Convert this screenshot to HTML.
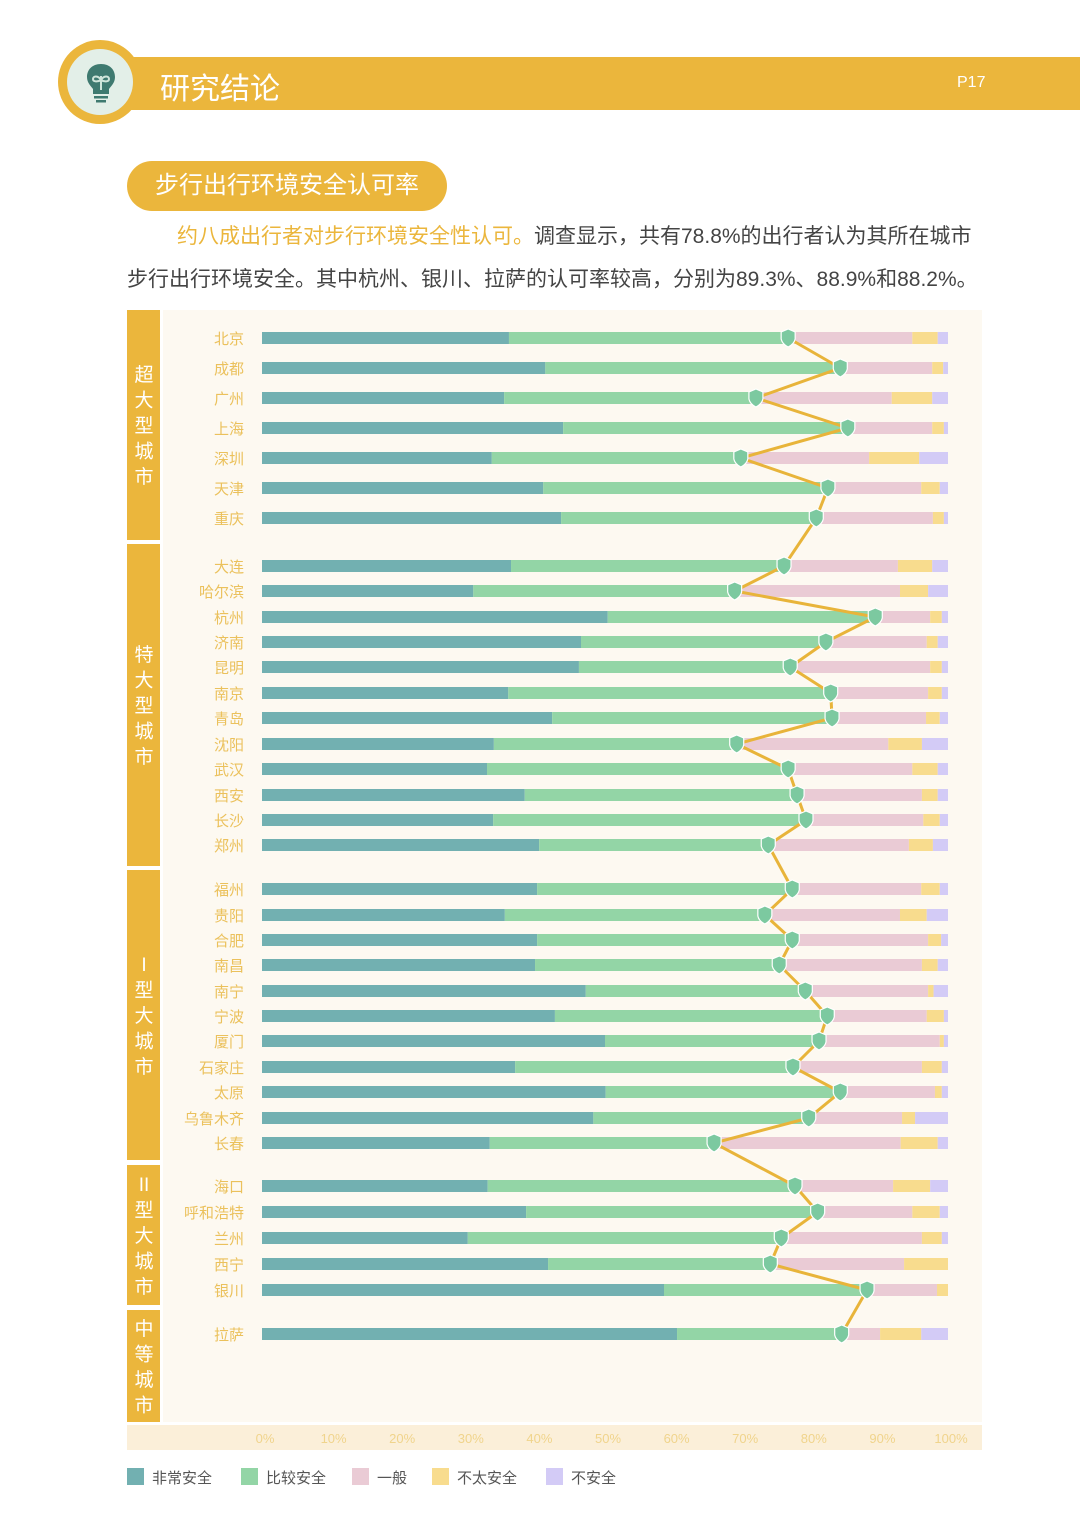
<!DOCTYPE html>
<html><head><meta charset="utf-8"><style>
body{margin:0;width:1080px;height:1527px;background:#fff;position:relative;overflow:hidden;font-family:"Liberation Sans","Noto Sans CJK SC",sans-serif}
.abs{position:absolute}
</style></head><body>
<div class="abs" style="left:100px;top:57px;width:980px;height:53px;background:#ebb63c"></div>
<div class="abs" style="left:58px;top:40px;width:84px;height:84px;border-radius:50%;background:#ebb63c"></div>
<div class="abs" style="left:67px;top:49px;width:66px;height:66px;border-radius:50%;background:#e3efe8"></div>
<svg class="abs" style="left:84px;top:62px" width="34" height="44"><path d="M17 2C8 2 3 8 3 15c0 6 4 9 6 12v5h16v-5c2-3 6-6 6-12C31 8 26 2 17 2z" fill="#3f7a70"/><path d="M17 14v14M17 18c-3-5-8-4-8-1 0 3 5 3 8 1M17 18c3-5 8-4 8-1 0 3-5 3-8 1" stroke="#cfe5da" stroke-width="2" fill="none"/><rect x="10" y="34" width="14" height="2.5" fill="#3f7a70"/><rect x="12" y="38" width="10" height="2.5" fill="#3f7a70"/></svg>
<div class="abs" style="left:160px;top:64px;font-size:30px;color:#fff">研究结论</div>
<div class="abs" style="left:957px;top:74px;font-size:16px;color:#fff">P17</div>
<div class="abs" style="left:127px;top:161px;width:320px;height:50px;border-radius:25px;background:#ebb63c;color:#fff;font-size:24px;line-height:50px;text-align:center">步行出行环境安全认可率</div>
<div class="abs" style="left:127px;top:215px;width:862px;font-size:21px;line-height:43px;color:#444"><span style="padding-left:50px;color:#ebb63c">约八成出行者对步行环境安全性认可。</span>调查显示，共有78.8%的出行者认为其所在城市步行出行环境安全。其中杭州、银川、拉萨的认可率较高，分别为89.3%、88.9%和88.2%。</div>
<svg id="chart" class="abs" style="left:0;top:0" width="1080" height="1527"></svg>
<script>
const cities=["北京","成都","广州","上海","深圳","天津","重庆","大连","哈尔滨","杭州","济南","昆明","南京","青岛","沈阳","武汉","西安","长沙","郑州","福州","贵阳","合肥","南昌","南宁","宁波","厦门","石家庄","太原","乌鲁木齐","长春","海口","呼和浩特","兰州","西宁","银川","拉萨"];
const rowY=[338,368,398,428,458,488,518,566,591,617,642,667,693,718,744,769,795,820,845,889,915,940,965,991,1016,1041,1067,1092,1118,1143,1186,1212,1238,1264,1290,1334];
const verySafe=[36.0,41.3,35.3,43.9,33.5,41.0,43.6,36.3,30.8,50.4,46.5,46.2,35.9,42.3,33.8,32.8,38.3,33.7,40.4,40.1,35.4,40.1,39.8,47.2,42.7,50.0,36.9,50.1,48.3,33.2,32.9,38.5,30.0,41.7,58.6,60.5];
const fairlySafe=[40.7,43.0,36.7,41.5,36.3,41.5,37.2,39.8,38.1,39.0,35.7,30.8,47.0,40.8,35.4,43.9,39.7,45.6,33.4,37.2,37.9,37.2,35.6,32.0,39.7,31.2,40.5,34.2,31.4,32.7,44.8,42.5,45.7,32.4,29.6,24.0];
const neutral=[18.1,13.4,19.8,12.3,18.7,13.6,17.0,16.6,24.1,8.0,14.7,20.4,14.2,13.7,22.1,18.1,18.2,17.1,20.5,18.8,19.7,19.8,20.8,17.9,14.5,17.6,18.8,13.8,13.6,27.2,14.3,13.8,20.5,19.5,10.2,5.6];
const notVerySafe=[3.7,1.6,5.9,1.7,7.3,2.7,1.6,5.0,4.1,1.7,1.6,1.7,2.0,2.0,4.9,3.7,2.3,2.4,3.5,2.7,3.9,1.9,2.3,0.8,2.5,0.6,2.9,1.0,1.9,5.4,5.4,4.0,2.9,6.4,1.6,6.0];
const unsafe=[1.5,0.7,2.3,0.6,4.2,1.2,0.6,2.3,2.9,0.9,1.5,0.9,0.9,1.2,3.8,1.5,1.5,1.2,2.2,1.2,3.1,1.0,1.5,2.1,0.6,0.6,0.9,0.9,4.8,1.5,2.6,1.2,0.9,0,0,3.9];
const ticks=["0%","10%","20%","30%","40%","50%","60%","70%","80%","90%","100%"];
const groups=["超大型城市","特大型城市","I型大城市","II型大城市","中等城市"];
const groupTop=[310,544,870,1165,1310];
const groupBot=[540,866,1160,1305,1422];
const seriesNames=["非常安全","比较安全","一般","不太安全","不安全"];
const colors=["#72b0b1","#93d5a6","#eacbd5","#f8dc8e","#d3cbf6"];
const X=v=>262+v*6.86;
const svg=document.getElementById('chart');
const NS='http://www.w3.org/2000/svg';
function mk(t,a){const e=document.createElementNS(NS,t);for(const k in a)e.setAttribute(k,a[k]);svg.appendChild(e);return e;}
let e=mk('rect',{x:163,y:310,width:819,height:1112,fill:'#fdf9f1'});


e=mk('rect',{x:127,y:1425,width:855,height:25,fill:'#fbefd9'});


groups.forEach((g,i)=>{
 let r=mk('rect',{x:127,y:groupTop[i],width:33,height:groupBot[i]-groupTop[i],fill:'#ebb63c'});
 
 
 const chars=g==="I型大城市"?["I","型","大","城","市"]:g==="II型大城市"?["II","型","大","城","市"]:g.split('');
 const mid=(groupTop[i]+groupBot[i])/2, step=25.5;
 chars.forEach((c,j)=>{
  let t=mk('text',{x:144,y:mid+(j-(chars.length-1)/2)*step+7,'text-anchor':'middle','font-size':19,fill:'#fff'});
  t.textContent=c;
  
  
 });
});
ticks.forEach((tk,i)=>{
 let t=mk('text',{x:X(i*10)+3,y:1443,'text-anchor':'middle','font-size':13,fill:'#f0d48c'});
 t.textContent=tk;
 
 
});
const pts=[];
cities.forEach((c,i)=>{
 const y=rowY[i];
 let t=mk('text',{x:244,y:y+6,'text-anchor':'end','font-size':15,fill:'#ebc15c'});
 t.textContent=c;
 
 
 const vals=[verySafe[i],fairlySafe[i],neutral[i],notVerySafe[i],unsafe[i]];
 let acc=0;
 vals.forEach((v,k)=>{
  let r=mk('rect',{x:X(acc),y:y-6,width:Math.max(0,X(acc+v)-X(acc)),height:12,fill:colors[k]});
  
  
  acc+=v;
 });
 pts.push([X(verySafe[i]+fairlySafe[i]),y]);
});
let pl=mk('polyline',{points:pts.map(p=>p.join(',')).join(' '),fill:'none',stroke:'#e8b43a','stroke-width':3});


pts.forEach(p=>{
 const [x,y]=p;
 let s=mk('path',{d:`M${x} ${y-9}L${x+7} ${y-6}L${x+7} ${y+1}Q${x+6} ${y+6} ${x} ${y+9}Q${x-6} ${y+6} ${x-7} ${y+1}L${x-7} ${y-6}Z`,fill:'#7cc9a0',stroke:'#fff','stroke-width':1.2});
 
 
});
const lx=[127,241,352,432,546];
seriesNames.forEach((n,i)=>{
 let r=mk('rect',{x:lx[i],y:1468,width:17,height:17,fill:colors[i]});
 
 
 let t=mk('text',{x:lx[i]+25,y:1483,'font-size':15,fill:'#555'});
 t.textContent=n;
 
 
});
</script>
</body></html>
